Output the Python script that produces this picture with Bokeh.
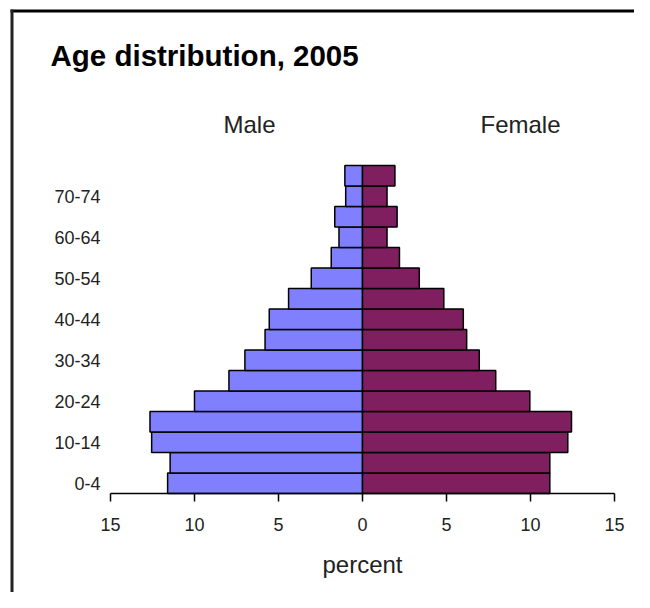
from bokeh.plotting import figure
from bokeh.models import (ColumnDataSource, Range1d, FixedTicker, Label, LinearAxis, BoxAnnotation)
from bokeh.embed import file_html
from bokeh.resources import INLINE

age_groups = ["0-4", "5-9", "10-14", "15-19", "20-24", "25-29", "30-34", "35-39",
              "40-44", "45-49", "50-54", "55-59", "60-64", "65-69", "70-74", "75+"]
male = [11.6, 11.45, 12.55, 12.65, 10.0, 7.95, 7.0, 5.8, 5.55, 4.4, 3.05, 1.86, 1.4, 1.65, 1.0, 1.05]
female = [11.15, 11.15, 12.22, 12.44, 9.96, 7.93, 6.95, 6.2, 6.0, 4.84, 3.38, 2.2, 1.46, 2.06, 1.46, 1.93]
shown_labels = ["0-4", "10-14", "20-24", "30-34", "40-44", "50-54", "60-64", "70-74"]
x_ticks = [-15, -10, -5, 0, 5, 10, 15]
title_text = "Age distribution, 2005"
side_labels = ["Male", "Female"]
x_label = "percent"

W, H = 634, 592
PX_X = 16.8      # pixels per percent
PX_Y = 20.5      # pixels per age group
ZERO_X = 362     # canvas x of 0 %
BASE_Y = 493     # canvas y of the bars' base

def sx(px):
    return (px - ZERO_X) / PX_X

def sy(py):
    return (BASE_Y - py) / PX_Y

n = len(age_groups)
ypos = [i + 0.5 for i in range(n)]
src = ColumnDataSource(dict(y=ypos, male_neg=[-v for v in male], female=female))

p = figure(width=W, height=H, output_backend="svg", toolbar_location=None,
           x_range=Range1d(sx(0), sx(W)),
           y_range=Range1d(sy(H), sy(0)),
           x_axis_location=None, y_axis_location=None,
           min_border=0, min_border_left=0, min_border_right=0,
           min_border_top=0, min_border_bottom=0)

p.hbar(y="y", left="male_neg", right=0, height=1.0, source=src,
       fill_color="#8080ff", line_color="black", line_width=1.5)
p.hbar(y="y", left=0, right="female", height=1.0, source=src,
       fill_color="#7f1f5f", line_color="black", line_width=1.5)

p.outline_line_color = None
p.xgrid.visible = False
p.ygrid.visible = False
p.background_fill_color = "white"
p.border_fill_color = "white"

font = "Liberation Sans"
xa = LinearAxis(fixed_location=0, bounds=(x_ticks[0], x_ticks[-1]),
                ticker=FixedTicker(ticks=x_ticks))
xa.major_label_overrides = {t: str(abs(t)) for t in x_ticks}
xa.major_tick_in = 0
xa.major_tick_out = 8
xa.minor_tick_line_color = None
xa.axis_line_width = 1.5
xa.major_tick_line_width = 1.5
xa.major_label_text_font = font
xa.major_label_text_font_size = "18px"
xa.major_label_text_color = "#222222"
xa.major_label_standoff = 16
xa.axis_label = x_label
xa.axis_label_text_font = font
xa.axis_label_text_font_style = "normal"
xa.axis_label_text_font_size = "24px"
xa.axis_label_text_color = "#222222"
xa.axis_label_standoff = 17
p.add_layout(xa, "below")

ya = LinearAxis(fixed_location=x_ticks[0], bounds=(0, n),
                ticker=FixedTicker(ticks=[ypos[age_groups.index(a)] for a in shown_labels]))
ya.major_label_overrides = {ypos[age_groups.index(a)]: a for a in shown_labels}
ya.axis_line_color = None
ya.major_tick_line_color = None
ya.major_tick_in = 0
ya.major_tick_out = 0
ya.minor_tick_line_color = None
ya.major_label_text_font = font
ya.major_label_text_font_size = "18px"
ya.major_label_text_color = "#222222"
ya.major_label_standoff = 10
p.add_layout(ya, "left")

p.add_layout(Label(x=sx(50), y=sy(55), text=title_text, text_font=font, text_font_size="29.5px",
                   text_font_style="bold", text_color="black", text_align="left",
                   text_baseline="alphabetic"))
p.add_layout(Label(x=sx(249), y=sy(124), text=side_labels[0], text_font=font, text_font_size="24px",
                   text_color="#222222", text_align="center", text_baseline="alphabetic"))
p.add_layout(Label(x=sx(520), y=sy(124), text=side_labels[1], text_font=font, text_font_size="24px",
                   text_color="#222222", text_align="center", text_baseline="alphabetic"))

# chart border: top and left edges
p.add_layout(BoxAnnotation(left=sx(10), right=sx(W), top=sy(9), bottom=sy(12),
                           fill_color="#000000", fill_alpha=1.0, line_color=None))
p.add_layout(BoxAnnotation(left=sx(10), right=sx(13), top=sy(9), bottom=sy(H),
                           fill_color="#222222", fill_alpha=1.0, line_color=None))

open("out.html", "w").write(file_html(p, INLINE))
